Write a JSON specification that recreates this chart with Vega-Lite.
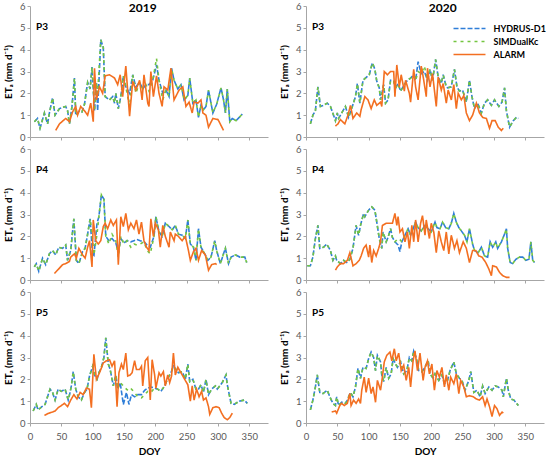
{
  "$schema": "https://vega.github.io/schema/vega-lite/v6.json",
  "background": "white",
  "padding": {"left": 3, "top": 1, "right": 0, "bottom": 0},
  "datasets": {
    "p3a": [
      {"d":7,"H":0.7,"S":0.7},{"d":12,"H":0.85,"S":0.85},{"d":16,"H":0.4,"S":0.4},{"d":23,"H":1.1,"S":1.1},{"d":28,"H":0.6,"S":0.6},{"d":31,"H":1.1,"S":1.1},{"d":36,"H":1.8,"S":1.8},{"d":40,"H":1.0,"S":1.0},{"d":47,"H":1.3,"S":1.3},{"d":57,"H":1.4,"S":1.4},{"d":60,"H":1.2,"S":1.2},{"d":63,"H":0.6,"S":0.6},{"d":67,"H":1.4,"S":1.4},{"d":71,"H":2.7,"S":2.7},{"d":73,"H":1.0,"S":1.0},{"d":79,"H":1.2,"S":1.2},{"d":83,"H":1.15,"S":1.15},{"d":87,"H":1.5,"S":1.5},{"d":92,"H":2.5,"S":2.5},{"d":96,"H":2.2,"S":2.2},{"d":99,"H":3.2,"S":3.2},{"d":103,"H":1.2,"S":1.2},{"d":106,"H":2.5,"S":2.5},{"d":108,"H":1.2,"S":2.0},{"d":113,"H":4.45,"S":4.45},{"d":117,"H":4.1,"S":4.1},{"d":120,"H":1.85,"S":1.85},{"d":127,"H":1.7,"S":1.7},{"d":132,"H":1.85,"S":1.85},{"d":135,"H":1.55,"S":1.55},{"d":137,"H":2.0,"S":2.0},{"d":141,"H":1.3,"S":1.3},{"d":145,"H":1.85,"S":1.85},{"d":149,"H":2.8,"S":2.8},{"d":153,"H":2.3,"S":2.3},{"d":159,"H":2.0,"S":1.4},{"d":164,"H":2.85,"S":2.85},{"d":169,"H":2.3,"S":2.0},{"d":175,"H":2.5,"S":2.5},{"d":180,"H":2.2,"S":2.2},{"d":185,"H":2.4,"S":2.4},{"d":190,"H":2.4,"S":2.1},{"d":196,"H":2.6,"S":2.6},{"d":202,"H":3.3,"S":3.6},{"d":206,"H":2.6,"S":2.6},{"d":212,"H":2.0,"S":1.7},{"d":217,"H":2.15,"S":2.15},{"d":222,"H":1.85,"S":1.85},{"d":226,"H":3.15,"S":3.15},{"d":230,"H":2.6,"S":2.6},{"d":236,"H":2.2,"S":2.2},{"d":241,"H":2.4,"S":2.4},{"d":246,"H":1.7,"S":1.7},{"d":252,"H":1.9,"S":1.9},{"d":255,"H":2.7,"S":2.7},{"d":260,"H":1.55,"S":1.55},{"d":265,"H":1.7,"S":1.7},{"d":269,"H":0.9,"S":0.9},{"d":273,"H":1.45,"S":1.45},{"d":277,"H":1.25,"S":1.25},{"d":281,"H":1.4,"S":1.4},{"d":285,"H":2.15,"S":2.15},{"d":292,"H":1.1,"S":1.1},{"d":298,"H":1.5,"S":1.5},{"d":305,"H":2.25,"S":2.25},{"d":309,"H":1.7,"S":1.7},{"d":312,"H":1.1,"S":1.1},{"d":315,"H":2.2,"S":2.2},{"d":319,"H":0.7,"S":0.7},{"d":323,"H":0.85,"S":0.85},{"d":329,"H":0.75,"S":0.75},{"d":339,"H":1.05,"S":1.05},
      {"d":41,"A":0.3},{"d":47,"A":0.6},{"d":57,"A":0.85},{"d":63,"A":0.7},{"d":68,"A":1.15},{"d":73,"A":1.4},{"d":76,"A":1.0},{"d":81,"A":1.4},{"d":87,"A":1.2},{"d":92,"A":1.0},{"d":97,"A":1.55},{"d":101,"A":0.7},{"d":103,"A":3.15},{"d":106,"A":1.7},{"d":111,"A":2.3},{"d":116,"A":2.0},{"d":120,"A":2.8},{"d":127,"A":2.85},{"d":135,"A":2.7},{"d":140,"A":2.4},{"d":144,"A":2.85},{"d":148,"A":1.85},{"d":153,"A":3.25},{"d":159,"A":0.95},{"d":164,"A":2.55},{"d":169,"A":2.15},{"d":175,"A":2.6},{"d":179,"A":1.7},{"d":182,"A":2.85},{"d":188,"A":1.55},{"d":190,"A":1.4},{"d":193,"A":3.0},{"d":197,"A":1.85},{"d":202,"A":2.8},{"d":206,"A":2.0},{"d":211,"A":1.4},{"d":214,"A":2.3},{"d":220,"A":2.15},{"d":225,"A":3.15},{"d":230,"A":1.7},{"d":238,"A":2.15},{"d":244,"A":2.3},{"d":249,"A":1.4},{"d":254,"A":1.6},{"d":259,"A":1.1},{"d":262,"A":1.6},{"d":268,"A":1.55},{"d":273,"A":1.7},{"d":276,"A":1.1},{"d":281,"A":1.0},{"d":285,"A":0.45},{"d":292,"A":0.85},{"d":300,"A":0.8},{"d":302,"A":0.7},{"d":309,"A":0.3}
    ],
    "p3b": [
      {"d":7,"H":0.6,"S":0.6},{"d":11,"H":1.0,"S":1.0},{"d":15,"H":1.2,"S":1.2},{"d":19,"H":2.3,"S":2.3},{"d":23,"H":1.4,"S":1.4},{"d":28,"H":1.45,"S":1.45},{"d":34,"H":1.55,"S":1.55},{"d":39,"H":1.4,"S":1.4},{"d":44,"H":1.0,"S":1.0},{"d":47,"H":0.75,"S":0.75},{"d":50,"H":1.1,"S":1.1},{"d":52,"H":0.85,"S":0.85},{"d":58,"H":1.15,"S":1.15},{"d":63,"H":1.4,"S":1.4},{"d":68,"H":0.9,"S":0.9},{"d":74,"H":1.4,"S":1.4},{"d":79,"H":1.85,"S":1.85},{"d":82,"H":2.45,"S":2.45},{"d":86,"H":1.55,"S":1.55},{"d":91,"H":2.6,"S":2.6},{"d":97,"H":2.75,"S":2.75},{"d":101,"H":2.85,"S":2.85},{"d":106,"H":3.4,"S":3.4},{"d":110,"H":3.1,"S":3.1},{"d":113,"H":2.55,"S":2.55},{"d":117,"H":2.25,"S":2.25},{"d":119,"H":1.7,"S":1.7},{"d":124,"H":2.4,"S":2.4},{"d":127,"H":1.55,"S":1.55},{"d":131,"H":1.7,"S":1.7},{"d":135,"H":2.6,"S":2.6},{"d":140,"H":2.55,"S":2.55},{"d":143,"H":2.25,"S":2.25},{"d":147,"H":2.45,"S":2.45},{"d":151,"H":2.1,"S":2.1},{"d":157,"H":2.4,"S":2.4},{"d":162,"H":2.6,"S":2.6},{"d":167,"H":2.7,"S":2.7},{"d":172,"H":2.85,"S":2.85},{"d":175,"H":2.6,"S":2.6},{"d":179,"H":3.45,"S":3.0},{"d":184,"H":2.9,"S":2.9},{"d":189,"H":3.0,"S":3.25},{"d":194,"H":2.6,"S":2.6},{"d":198,"H":3.1,"S":3.1},{"d":202,"H":2.6,"S":2.6},{"d":207,"H":3.55,"S":3.55},{"d":211,"H":2.75,"S":2.75},{"d":216,"H":2.45,"S":2.45},{"d":219,"H":2.85,"S":2.85},{"d":224,"H":2.3,"S":2.3},{"d":226,"H":2.25,"S":2.25},{"d":232,"H":2.3,"S":2.3},{"d":237,"H":3.1,"S":3.1},{"d":241,"H":2.3,"S":2.3},{"d":245,"H":2.1,"S":2.1},{"d":250,"H":2.15,"S":2.15},{"d":256,"H":1.6,"S":1.6},{"d":261,"H":2.6,"S":2.6},{"d":265,"H":1.85,"S":1.85},{"d":269,"H":1.3,"S":1.3},{"d":274,"H":1.55,"S":1.55},{"d":280,"H":1.1,"S":1.1},{"d":285,"H":1.55,"S":1.55},{"d":290,"H":1.7,"S":1.7},{"d":296,"H":1.45,"S":1.45},{"d":301,"H":1.7,"S":1.7},{"d":308,"H":1.4,"S":1.4},{"d":313,"H":1.6,"S":1.6},{"d":317,"H":2.25,"S":2.25},{"d":320,"H":1.2,"S":1.2},{"d":325,"H":0.45,"S":0.45},{"d":331,"H":0.75,"S":0.75},{"d":336,"H":0.9,"S":0.9},{"d":339,"H":0.85,"S":0.85},
      {"d":47,"A":0.5},{"d":51,"A":0.6},{"d":55,"A":0.8},{"d":62,"A":0.6},{"d":67,"A":1.0},{"d":71,"A":1.45},{"d":75,"A":0.85},{"d":81,"A":1.1},{"d":86,"A":0.95},{"d":88,"A":1.25},{"d":94,"A":1.85},{"d":99,"A":1.7},{"d":104,"A":1.3},{"d":109,"A":1.7},{"d":113,"A":1.45},{"d":119,"A":1.6},{"d":121,"A":1.4},{"d":125,"A":3.0},{"d":130,"A":2.85},{"d":135,"A":3.0},{"d":140,"A":3.0},{"d":142,"A":1.85},{"d":145,"A":3.3},{"d":149,"A":2.3},{"d":152,"A":2.85},{"d":157,"A":2.1},{"d":159,"A":2.6},{"d":165,"A":2.0},{"d":167,"A":1.6},{"d":172,"A":3.1},{"d":175,"A":2.3},{"d":179,"A":1.7},{"d":184,"A":3.25},{"d":188,"A":2.6},{"d":192,"A":1.85},{"d":194,"A":3.15},{"d":198,"A":2.3},{"d":202,"A":2.9},{"d":208,"A":1.4},{"d":211,"A":2.75},{"d":216,"A":2.15},{"d":219,"A":2.45},{"d":224,"A":1.55},{"d":227,"A":2.15},{"d":232,"A":1.7},{"d":236,"A":2.4},{"d":240,"A":1.3},{"d":243,"A":2.0},{"d":248,"A":1.7},{"d":252,"A":1.9},{"d":256,"A":1.1},{"d":261,"A":0.75},{"d":266,"A":1.0},{"d":272,"A":1.55},{"d":277,"A":1.1},{"d":282,"A":0.9},{"d":288,"A":0.85},{"d":293,"A":0.4},{"d":297,"A":0.75},{"d":302,"A":0.75},{"d":307,"A":0.45},{"d":312,"A":0.3},{"d":315,"A":0.4}
    ],
    "p4a": [
      {"d":7,"H":0.6,"S":0.6},{"d":10,"H":0.75,"S":0.75},{"d":14,"H":0.4,"S":0.4},{"d":20,"H":1.0,"S":1.0},{"d":25,"H":0.7,"S":0.7},{"d":31,"H":1.2,"S":1.2},{"d":36,"H":1.35,"S":1.35},{"d":41,"H":1.15,"S":1.15},{"d":46,"H":1.5,"S":1.5},{"d":52,"H":1.45,"S":1.45},{"d":57,"H":1.6,"S":1.6},{"d":60,"H":0.9,"S":0.9},{"d":65,"H":1.35,"S":1.35},{"d":70,"H":2.8,"S":2.8},{"d":74,"H":0.9,"S":0.9},{"d":78,"H":0.75,"S":0.75},{"d":84,"H":1.3,"S":1.3},{"d":88,"H":1.45,"S":1.45},{"d":92,"H":2.1,"S":2.1},{"d":96,"H":2.8,"S":2.8},{"d":100,"H":1.1,"S":1.8},{"d":102,"H":1.1,"S":1.15},{"d":107,"H":2.6,"S":2.1},{"d":110,"H":2.9,"S":2.9},{"d":114,"H":3.9,"S":3.9},{"d":118,"H":3.7,"S":3.7},{"d":121,"H":2.0,"S":2.0},{"d":126,"H":1.8,"S":1.65},{"d":131,"H":1.9,"S":2.1},{"d":137,"H":1.7,"S":1.8},{"d":141,"H":1.3,"S":1.05},{"d":145,"H":1.9,"S":2.0},{"d":150,"H":1.7,"S":1.65},{"d":155,"H":1.8,"S":1.8},{"d":161,"H":1.75,"S":1.5},{"d":166,"H":1.8,"S":1.65},{"d":171,"H":1.85,"S":1.6},{"d":176,"H":1.8,"S":1.65},{"d":182,"H":1.75,"S":1.75},{"d":187,"H":1.6,"S":1.35},{"d":192,"H":1.5,"S":1.2},{"d":198,"H":2.0,"S":2.0},{"d":201,"H":2.9,"S":2.9},{"d":206,"H":2.2,"S":2.2},{"d":211,"H":2.0,"S":2.0},{"d":216,"H":2.6,"S":2.6},{"d":222,"H":2.45,"S":2.45},{"d":227,"H":2.3,"S":2.3},{"d":232,"H":2.5,"S":2.5},{"d":237,"H":2.1,"S":2.1},{"d":243,"H":2.05,"S":2.05},{"d":248,"H":1.9,"S":1.9},{"d":252,"H":2.75,"S":2.75},{"d":256,"H":1.65,"S":1.65},{"d":261,"H":1.5,"S":1.5},{"d":265,"H":0.9,"S":0.9},{"d":269,"H":2.35,"S":2.35},{"d":273,"H":1.5,"S":1.5},{"d":279,"H":1.2,"S":1.2},{"d":284,"H":0.9,"S":0.9},{"d":289,"H":1.05,"S":1.05},{"d":295,"H":1.8,"S":1.8},{"d":298,"H":1.35,"S":1.35},{"d":304,"H":0.75,"S":0.75},{"d":309,"H":1.2,"S":1.2},{"d":312,"H":1.45,"S":1.45},{"d":317,"H":0.75,"S":0.75},{"d":321,"H":1.05,"S":1.05},{"d":328,"H":1.15,"S":1.15},{"d":335,"H":1.05,"S":1.05},{"d":343,"H":1.05,"S":1.05},{"d":346,"H":0.8,"S":0.8},
      {"d":39,"A":0.3},{"d":44,"A":0.45},{"d":52,"A":0.7},{"d":57,"A":0.75},{"d":63,"A":0.85},{"d":65,"A":1.05},{"d":71,"A":1.2},{"d":74,"A":1.0},{"d":78,"A":1.45},{"d":84,"A":1.15},{"d":88,"A":1.0},{"d":92,"A":1.5},{"d":95,"A":1.8},{"d":99,"A":0.6},{"d":101,"A":2.75},{"d":105,"A":1.8},{"d":109,"A":1.65},{"d":113,"A":1.8},{"d":117,"A":2.45},{"d":120,"A":2.6},{"d":124,"A":2.35},{"d":129,"A":2.75},{"d":133,"A":2.5},{"d":138,"A":2.75},{"d":141,"A":0.7},{"d":145,"A":2.9},{"d":149,"A":2.45},{"d":153,"A":3.05},{"d":157,"A":2.3},{"d":161,"A":2.6},{"d":166,"A":2.35},{"d":170,"A":2.75},{"d":174,"A":2.1},{"d":178,"A":2.65},{"d":182,"A":1.8},{"d":186,"A":1.5},{"d":190,"A":1.35},{"d":193,"A":2.8},{"d":197,"A":2.0},{"d":200,"A":2.6},{"d":205,"A":2.3},{"d":208,"A":1.5},{"d":212,"A":2.5},{"d":216,"A":2.0},{"d":222,"A":1.5},{"d":224,"A":2.2},{"d":230,"A":1.8},{"d":232,"A":2.1},{"d":237,"A":2.0},{"d":243,"A":1.8},{"d":248,"A":2.0},{"d":253,"A":1.35},{"d":256,"A":0.9},{"d":261,"A":1.3},{"d":265,"A":1.45},{"d":269,"A":0.9},{"d":274,"A":1.35},{"d":280,"A":1.15},{"d":285,"A":0.45},{"d":290,"A":0.7},{"d":296,"A":0.75},{"d":298,"A":0.7}
    ],
    "p4b": [
      {"d":2,"H":0.65,"S":0.65},{"d":7,"H":0.65,"S":0.65},{"d":11,"H":1.05,"S":1.05},{"d":15,"H":1.9,"S":1.9},{"d":19,"H":2.5,"S":2.5},{"d":22,"H":1.45,"S":1.45},{"d":28,"H":1.5,"S":1.5},{"d":33,"H":1.65,"S":1.65},{"d":39,"H":1.35,"S":1.35},{"d":43,"H":0.9,"S":0.9},{"d":47,"H":1.1,"S":1.1},{"d":49,"H":0.9,"S":0.9},{"d":55,"H":0.75,"S":0.75},{"d":60,"H":0.9,"S":0.9},{"d":65,"H":0.8,"S":0.8},{"d":70,"H":0.95,"S":0.95},{"d":75,"H":1.45,"S":1.45},{"d":80,"H":2.5,"S":2.5},{"d":84,"H":2.05,"S":2.05},{"d":87,"H":2.5,"S":2.5},{"d":92,"H":3.05,"S":3.05},{"d":94,"H":2.9,"S":2.9},{"d":100,"H":3.2,"S":3.2},{"d":105,"H":3.35,"S":3.35},{"d":110,"H":3.2,"S":3.2},{"d":113,"H":2.65,"S":2.65},{"d":117,"H":1.9,"S":1.9},{"d":121,"H":1.45,"S":1.45},{"d":123,"H":2.2,"S":2.2},{"d":128,"H":1.75,"S":1.75},{"d":131,"H":1.95,"S":1.95},{"d":135,"H":2.35,"S":2.35},{"d":138,"H":1.95,"S":1.95},{"d":142,"H":1.75,"S":1.75},{"d":147,"H":1.6,"S":1.9},{"d":150,"H":1.3,"S":1.85},{"d":153,"H":1.75,"S":1.75},{"d":158,"H":2.05,"S":2.05},{"d":163,"H":2.35,"S":2.35},{"d":167,"H":2.05,"S":2.05},{"d":171,"H":2.35,"S":2.35},{"d":175,"H":2.65,"S":2.65},{"d":179,"H":2.4,"S":2.4},{"d":184,"H":2.25,"S":2.25},{"d":190,"H":2.5,"S":2.5},{"d":195,"H":2.35,"S":2.35},{"d":200,"H":2.2,"S":2.2},{"d":206,"H":2.65,"S":2.65},{"d":209,"H":2.4,"S":2.4},{"d":214,"H":2.35,"S":2.35},{"d":218,"H":2.65,"S":2.65},{"d":223,"H":2.4,"S":2.4},{"d":228,"H":2.35,"S":2.35},{"d":232,"H":2.6,"S":2.6},{"d":236,"H":3.05,"S":3.05},{"d":240,"H":2.65,"S":2.65},{"d":244,"H":2.4,"S":2.4},{"d":248,"H":2.25,"S":2.25},{"d":253,"H":2.05,"S":2.05},{"d":257,"H":1.75,"S":1.75},{"d":261,"H":2.35,"S":2.35},{"d":266,"H":1.65,"S":1.65},{"d":269,"H":1.35,"S":1.35},{"d":275,"H":1.25,"S":1.25},{"d":280,"H":1.5,"S":1.5},{"d":285,"H":1.1,"S":1.1},{"d":290,"H":1.05,"S":1.05},{"d":294,"H":1.75,"S":1.75},{"d":298,"H":1.5,"S":1.5},{"d":303,"H":1.75,"S":1.75},{"d":306,"H":1.45,"S":1.45},{"d":312,"H":1.75,"S":1.75},{"d":317,"H":2.1,"S":2.1},{"d":320,"H":2.35,"S":2.35},{"d":322,"H":1.45,"S":1.45},{"d":326,"H":0.8,"S":0.8},{"d":330,"H":0.75,"S":0.75},{"d":335,"H":0.95,"S":0.95},{"d":341,"H":1.05,"S":1.05},{"d":346,"H":1.05,"S":1.05},{"d":351,"H":0.9,"S":0.9},{"d":356,"H":0.95,"S":0.95},{"d":359,"H":1.75,"S":1.75},{"d":362,"H":0.9,"S":0.9},{"d":365,"H":0.8,"S":0.8},
      {"d":47,"A":0.45},{"d":50,"A":0.6},{"d":55,"A":0.75},{"d":60,"A":0.75},{"d":66,"A":0.9},{"d":70,"A":1.25},{"d":75,"A":0.65},{"d":80,"A":0.75},{"d":85,"A":0.9},{"d":88,"A":1.1},{"d":92,"A":1.45},{"d":96,"A":1.6},{"d":100,"A":1.05},{"d":102,"A":1.6},{"d":105,"A":0.8},{"d":108,"A":1.35},{"d":112,"A":1.1},{"d":116,"A":1.45},{"d":119,"A":1.75},{"d":122,"A":2.5},{"d":128,"A":2.6},{"d":133,"A":2.6},{"d":138,"A":2.6},{"d":142,"A":3.05},{"d":145,"A":2.5},{"d":147,"A":2.9},{"d":150,"A":2.2},{"d":154,"A":2.35},{"d":158,"A":1.75},{"d":162,"A":2.2},{"d":165,"A":1.45},{"d":169,"A":2.5},{"d":172,"A":1.75},{"d":175,"A":2.75},{"d":179,"A":1.75},{"d":183,"A":2.6},{"d":186,"A":2.95},{"d":190,"A":2.05},{"d":192,"A":2.75},{"d":197,"A":1.9},{"d":200,"A":2.6},{"d":204,"A":2.2},{"d":208,"A":1.25},{"d":212,"A":2.25},{"d":216,"A":1.75},{"d":220,"A":1.35},{"d":224,"A":2.2},{"d":228,"A":1.2},{"d":232,"A":2.05},{"d":237,"A":1.45},{"d":241,"A":1.8},{"d":245,"A":1.25},{"d":251,"A":1.75},{"d":256,"A":1.45},{"d":261,"A":0.8},{"d":266,"A":1.35},{"d":271,"A":1.35},{"d":276,"A":1.1},{"d":281,"A":1.05},{"d":287,"A":0.8},{"d":292,"A":0.5},{"d":296,"A":0.2},{"d":298,"A":0.65},{"d":304,"A":0.6},{"d":309,"A":0.35},{"d":314,"A":0.2},{"d":320,"A":0.12},{"d":325,"A":0.12}
    ],
    "p5a": [
      {"d":5,"H":0.55,"S":0.55},{"d":10,"H":0.85,"S":0.85},{"d":13,"H":0.6,"S":0.6},{"d":19,"H":0.75,"S":0.75},{"d":24,"H":0.85,"S":0.85},{"d":28,"H":1.2,"S":1.2},{"d":32,"H":1.55,"S":1.55},{"d":36,"H":1.4,"S":1.4},{"d":40,"H":1.05,"S":1.05},{"d":45,"H":1.55,"S":1.55},{"d":50,"H":1.45,"S":1.45},{"d":56,"H":1.55,"S":1.55},{"d":61,"H":1.05,"S":1.05},{"d":64,"H":1.4,"S":1.4},{"d":66,"H":1.7,"S":1.7},{"d":69,"H":2.35,"S":2.35},{"d":73,"H":1.55,"S":1.55},{"d":77,"H":1.2,"S":1.2},{"d":82,"H":1.05,"S":1.05},{"d":87,"H":1.4,"S":1.4},{"d":91,"H":1.55,"S":1.55},{"d":95,"H":2.15,"S":2.15},{"d":100,"H":2.6,"S":2.6},{"d":103,"H":2.2,"S":2.2},{"d":107,"H":2.0,"S":2.0},{"d":110,"H":2.3,"S":2.3},{"d":114,"H":2.55,"S":2.55},{"d":118,"H":3.0,"S":3.0},{"d":121,"H":3.9,"S":3.9},{"d":125,"H":2.7,"S":2.7},{"d":128,"H":2.45,"S":2.45},{"d":133,"H":1.7,"S":1.7},{"d":137,"H":2.2,"S":2.2},{"d":140,"H":1.55,"S":1.55},{"d":144,"H":1.85,"S":1.85},{"d":149,"H":0.85,"S":1.7},{"d":154,"H":1.4,"S":1.55},{"d":158,"H":0.85,"S":1.45},{"d":162,"H":1.3,"S":1.55},{"d":167,"H":1.2,"S":1.4},{"d":172,"H":1.3,"S":1.2},{"d":178,"H":1.3,"S":1.15},{"d":183,"H":1.5,"S":1.3},{"d":188,"H":1.6,"S":1.45},{"d":193,"H":1.65,"S":1.4},{"d":199,"H":1.6,"S":1.6},{"d":204,"H":1.55,"S":1.55},{"d":209,"H":1.45,"S":1.45},{"d":215,"H":1.7,"S":1.7},{"d":220,"H":2.05,"S":2.05},{"d":225,"H":2.3,"S":2.3},{"d":229,"H":2.6,"S":2.6},{"d":233,"H":2.45,"S":2.45},{"d":237,"H":2.3,"S":2.3},{"d":243,"H":2.35,"S":2.35},{"d":248,"H":2.0,"S":2.0},{"d":252,"H":2.7,"S":2.7},{"d":255,"H":1.9,"S":1.9},{"d":260,"H":2.0,"S":2.0},{"d":265,"H":1.55,"S":1.55},{"d":269,"H":1.55,"S":1.55},{"d":273,"H":1.75,"S":1.75},{"d":277,"H":1.4,"S":1.4},{"d":281,"H":2.0,"S":2.0},{"d":285,"H":1.3,"S":1.3},{"d":290,"H":1.55,"S":1.55},{"d":296,"H":1.7,"S":1.7},{"d":299,"H":1.55,"S":1.55},{"d":303,"H":1.7,"S":1.7},{"d":307,"H":1.85,"S":1.85},{"d":313,"H":2.2,"S":2.2},{"d":315,"H":1.75,"S":1.75},{"d":321,"H":0.9,"S":0.9},{"d":326,"H":0.85,"S":0.85},{"d":334,"H":1.0,"S":1.0},{"d":342,"H":1.05,"S":1.05},{"d":347,"H":0.9,"S":0.9},
      {"d":23,"A":0.35},{"d":30,"A":0.45},{"d":36,"A":0.5},{"d":40,"A":0.55},{"d":45,"A":0.7},{"d":50,"A":0.8},{"d":55,"A":0.9},{"d":60,"A":0.75},{"d":65,"A":1.05},{"d":70,"A":1.3},{"d":75,"A":1.1},{"d":80,"A":1.4},{"d":85,"A":1.3},{"d":90,"A":1.6},{"d":95,"A":1.55},{"d":98,"A":0.7},{"d":102,"A":3.15},{"d":106,"A":2.0},{"d":111,"A":2.3},{"d":117,"A":2.75},{"d":122,"A":2.85},{"d":127,"A":2.9},{"d":131,"A":2.6},{"d":135,"A":2.85},{"d":139,"A":0.75},{"d":142,"A":2.3},{"d":146,"A":2.7},{"d":149,"A":2.45},{"d":153,"A":3.2},{"d":156,"A":2.15},{"d":160,"A":2.2},{"d":163,"A":2.3},{"d":167,"A":2.85},{"d":170,"A":2.45},{"d":175,"A":2.45},{"d":178,"A":2.6},{"d":180,"A":1.7},{"d":184,"A":2.85},{"d":188,"A":3.0},{"d":192,"A":1.05},{"d":195,"A":2.9},{"d":199,"A":2.2},{"d":201,"A":1.6},{"d":206,"A":2.3},{"d":209,"A":2.15},{"d":213,"A":2.35},{"d":216,"A":1.7},{"d":220,"A":2.2},{"d":223,"A":1.85},{"d":226,"A":2.15},{"d":229,"A":3.2},{"d":232,"A":2.2},{"d":236,"A":2.55},{"d":241,"A":2.3},{"d":246,"A":2.05},{"d":252,"A":1.75},{"d":256,"A":1.0},{"d":259,"A":1.7},{"d":262,"A":1.05},{"d":266,"A":1.55},{"d":270,"A":1.2},{"d":274,"A":1.45},{"d":277,"A":1.05},{"d":281,"A":1.15},{"d":285,"A":0.75},{"d":287,"A":0.4},{"d":292,"A":0.7},{"d":297,"A":0.75},{"d":302,"A":0.7},{"d":306,"A":0.45},{"d":310,"A":0.25},{"d":315,"A":0.15},{"d":319,"A":0.25},{"d":323,"A":0.45}
    ],
    "p5b": [
      {"d":7,"H":0.6,"S":0.6},{"d":11,"H":1.05,"S":1.05},{"d":15,"H":1.65,"S":1.65},{"d":18,"H":2.2,"S":2.2},{"d":22,"H":1.4,"S":1.4},{"d":27,"H":1.35,"S":1.35},{"d":34,"H":1.5,"S":1.5},{"d":38,"H":1.2,"S":1.2},{"d":43,"H":0.9,"S":0.9},{"d":47,"H":0.8,"S":0.8},{"d":49,"H":1.2,"S":1.2},{"d":52,"H":0.8,"S":0.8},{"d":57,"H":0.95,"S":0.95},{"d":63,"H":0.9,"S":0.9},{"d":66,"H":1.05,"S":1.05},{"d":71,"H":1.4,"S":1.4},{"d":75,"H":1.2,"S":1.2},{"d":79,"H":1.65,"S":1.65},{"d":83,"H":2.5,"S":2.5},{"d":87,"H":2.05,"S":2.05},{"d":91,"H":2.55,"S":2.55},{"d":96,"H":2.5,"S":2.5},{"d":100,"H":2.95,"S":2.95},{"d":104,"H":3.25,"S":3.25},{"d":108,"H":3.0,"S":3.0},{"d":111,"H":2.4,"S":2.4},{"d":114,"H":3.1,"S":3.1},{"d":119,"H":2.8,"S":2.8},{"d":121,"H":2.2,"S":2.2},{"d":124,"H":1.9,"S":1.9},{"d":128,"H":2.55,"S":2.55},{"d":132,"H":2.05,"S":2.05},{"d":136,"H":2.25,"S":2.25},{"d":139,"H":2.95,"S":2.95},{"d":143,"H":2.7,"S":2.7},{"d":146,"H":2.55,"S":2.55},{"d":151,"H":2.8,"S":2.8},{"d":156,"H":2.25,"S":2.25},{"d":161,"H":2.4,"S":2.4},{"d":165,"H":3.0,"S":3.0},{"d":169,"H":2.85,"S":2.85},{"d":172,"H":3.3,"S":3.3},{"d":176,"H":3.0,"S":3.0},{"d":180,"H":2.4,"S":2.4},{"d":185,"H":2.35,"S":2.35},{"d":190,"H":2.55,"S":2.55},{"d":195,"H":2.85,"S":2.85},{"d":198,"H":2.25,"S":2.25},{"d":203,"H":2.05,"S":2.05},{"d":206,"H":2.25,"S":2.25},{"d":212,"H":1.95,"S":1.95},{"d":217,"H":2.2,"S":2.2},{"d":221,"H":1.8,"S":1.8},{"d":226,"H":1.95,"S":1.95},{"d":230,"H":2.4,"S":2.4},{"d":236,"H":2.8,"S":2.8},{"d":240,"H":2.25,"S":2.25},{"d":245,"H":2.05,"S":2.05},{"d":249,"H":1.95,"S":1.95},{"d":254,"H":1.5,"S":1.5},{"d":260,"H":1.95,"S":1.95},{"d":263,"H":2.35,"S":2.35},{"d":268,"H":1.4,"S":1.4},{"d":273,"H":1.5,"S":1.5},{"d":278,"H":1.2,"S":1.2},{"d":282,"H":1.7,"S":1.7},{"d":286,"H":1.35,"S":1.35},{"d":292,"H":1.65,"S":1.65},{"d":297,"H":1.5,"S":1.5},{"d":302,"H":1.7,"S":1.7},{"d":307,"H":1.65,"S":1.65},{"d":313,"H":1.5,"S":1.5},{"d":315,"H":1.2,"S":1.2},{"d":320,"H":2.05,"S":2.05},{"d":323,"H":1.5,"S":1.5},{"d":327,"H":1.1,"S":1.1},{"d":332,"H":1.05,"S":1.05},{"d":339,"H":0.8,"S":0.8},
      {"d":41,"A":0.5},{"d":47,"A":0.55},{"d":49,"A":0.45},{"d":54,"A":0.8},{"d":57,"A":0.9},{"d":61,"A":0.8},{"d":66,"A":0.9},{"d":70,"A":1.35},{"d":72,"A":0.8},{"d":76,"A":1.05},{"d":80,"A":0.9},{"d":84,"A":1.1},{"d":87,"A":0.9},{"d":89,"A":1.5},{"d":93,"A":2.1},{"d":96,"A":1.4},{"d":100,"A":2.05},{"d":104,"A":1.35},{"d":107,"A":1.65},{"d":111,"A":0.95},{"d":114,"A":1.95},{"d":119,"A":1.5},{"d":121,"A":1.9},{"d":125,"A":2.8},{"d":129,"A":3.1},{"d":134,"A":3.25},{"d":137,"A":2.85},{"d":141,"A":3.4},{"d":144,"A":2.85},{"d":148,"A":3.2},{"d":152,"A":2.4},{"d":156,"A":2.65},{"d":160,"A":1.95},{"d":164,"A":2.55},{"d":167,"A":1.65},{"d":171,"A":2.85},{"d":174,"A":3.3},{"d":178,"A":2.4},{"d":182,"A":3.2},{"d":187,"A":1.95},{"d":190,"A":2.55},{"d":194,"A":2.85},{"d":197,"A":2.25},{"d":201,"A":2.7},{"d":205,"A":1.5},{"d":209,"A":2.4},{"d":213,"A":2.1},{"d":217,"A":2.55},{"d":221,"A":1.65},{"d":224,"A":2.2},{"d":228,"A":1.5},{"d":231,"A":2.1},{"d":236,"A":1.8},{"d":240,"A":2.25},{"d":244,"A":1.35},{"d":247,"A":1.95},{"d":252,"A":1.65},{"d":256,"A":1.2},{"d":261,"A":1.25},{"d":267,"A":1.2},{"d":272,"A":1.1},{"d":277,"A":1.05},{"d":282,"A":1.2},{"d":286,"A":0.8},{"d":289,"A":1.1},{"d":293,"A":0.75},{"d":297,"A":0.3},{"d":301,"A":0.8},{"d":305,"A":0.65},{"d":309,"A":0.35},{"d":313,"A":0.5},{"d":315,"A":0.45}
    ]
  },
  "hconcat": [
    {
      "title": {"text": "2019", "anchor": "middle", "frame": "bounds", "offset": -14, "dx": 7, "fontSize": 12},
      "spacing": 2,
      "vconcat": [
        {
          "width": 238, "height": 131,
          "data": {"name": "p3a"},
          "title": {"text": "P3", "anchor": "start", "frame": "group", "offset": -31, "dx": 6},
          "transform": [{"fold": ["H", "S", "A"], "as": ["m", "et"]}, {"filter": "isValid(datum.et)"}],
          "mark": {"type": "line", "strokeWidth": 1.6},
          "encoding": {
            "x": {"field": "d", "type": "quantitative", "scale": {"domain": [0, 380]}, "axis": {"labels": false, "title": null, "values": [0, 50, 100, 150, 200, 250, 300, 350]}},
            "y": {"field": "et", "type": "quantitative", "scale": {"domain": [0, 6]}, "axis": {"title": "ETₐ (mm d⁻¹)", "values": [0, 1, 2, 3, 4, 5, 6]}},
            "color": {"field": "m", "type": "nominal", "title": null, "scale": {"domain": ["H", "S", "A"], "range": ["#2F7ED8", "#74C540", "#F36F21"]}, "legend": {"labelExpr": "datum.label == 'H' ? 'HYDRUS-D1' : datum.label == 'S' ? 'SIMDualKc' : 'ALARM'"}},
            "strokeDash": {"field": "m", "type": "nominal", "title": null, "scale": {"domain": ["H", "S", "A"], "range": [[5, 2], [3, 4], [1, 0]]}, "legend": {"labelExpr": "datum.label == 'H' ? 'HYDRUS-D1' : datum.label == 'S' ? 'SIMDualKc' : 'ALARM'"}}
          }
        },
        {
          "width": 238, "height": 131,
          "data": {"name": "p4a"},
          "title": {"text": "P4", "anchor": "start", "frame": "group", "offset": -31, "dx": 6},
          "transform": [{"fold": ["H", "S", "A"], "as": ["m", "et"]}, {"filter": "isValid(datum.et)"}],
          "mark": {"type": "line", "strokeWidth": 1.6},
          "encoding": {
            "x": {"field": "d", "type": "quantitative", "scale": {"domain": [0, 380]}, "axis": {"labels": false, "title": null, "values": [0, 50, 100, 150, 200, 250, 300, 350]}},
            "y": {"field": "et", "type": "quantitative", "scale": {"domain": [0, 6]}, "axis": {"title": "ETₐ (mm d⁻¹)", "values": [0, 1, 2, 3, 4, 5, 6]}},
            "color": {"field": "m", "type": "nominal", "title": null, "scale": {"domain": ["H", "S", "A"], "range": ["#2F7ED8", "#74C540", "#F36F21"]}, "legend": {"labelExpr": "datum.label == 'H' ? 'HYDRUS-D1' : datum.label == 'S' ? 'SIMDualKc' : 'ALARM'"}},
            "strokeDash": {"field": "m", "type": "nominal", "title": null, "scale": {"domain": ["H", "S", "A"], "range": [[5, 2], [3, 4], [1, 0]]}, "legend": {"labelExpr": "datum.label == 'H' ? 'HYDRUS-D1' : datum.label == 'S' ? 'SIMDualKc' : 'ALARM'"}}
          }
        },
        {
          "width": 238, "height": 131,
          "data": {"name": "p5a"},
          "title": {"text": "P5", "anchor": "start", "frame": "group", "offset": -31, "dx": 6},
          "transform": [{"fold": ["H", "S", "A"], "as": ["m", "et"]}, {"filter": "isValid(datum.et)"}],
          "mark": {"type": "line", "strokeWidth": 1.6},
          "encoding": {
            "x": {"field": "d", "type": "quantitative", "scale": {"domain": [0, 380]}, "axis": {"title": "DOY", "values": [0, 50, 100, 150, 200, 250, 300, 350]}},
            "y": {"field": "et", "type": "quantitative", "scale": {"domain": [0, 6]}, "axis": {"title": "ETₐ (mm d⁻¹)", "values": [0, 1, 2, 3, 4, 5, 6]}},
            "color": {"field": "m", "type": "nominal", "title": null, "scale": {"domain": ["H", "S", "A"], "range": ["#2F7ED8", "#74C540", "#F36F21"]}, "legend": {"labelExpr": "datum.label == 'H' ? 'HYDRUS-D1' : datum.label == 'S' ? 'SIMDualKc' : 'ALARM'"}},
            "strokeDash": {"field": "m", "type": "nominal", "title": null, "scale": {"domain": ["H", "S", "A"], "range": [[5, 2], [3, 4], [1, 0]]}, "legend": {"labelExpr": "datum.label == 'H' ? 'HYDRUS-D1' : datum.label == 'S' ? 'SIMDualKc' : 'ALARM'"}}
          }
        }
      ]
    },
    {
      "title": {"text": "2020", "anchor": "middle", "frame": "bounds", "offset": -14, "dx": 31, "fontSize": 12},
      "spacing": 2,
      "vconcat": [
        {
          "width": 238, "height": 131,
          "data": {"name": "p3b"},
          "title": {"text": "P3", "anchor": "start", "frame": "group", "offset": -31, "dx": 6},
          "transform": [{"fold": ["H", "S", "A"], "as": ["m", "et"]}, {"filter": "isValid(datum.et)"}],
          "mark": {"type": "line", "strokeWidth": 1.6},
          "encoding": {
            "x": {"field": "d", "type": "quantitative", "scale": {"domain": [0, 380]}, "axis": {"labels": false, "title": null, "values": [0, 50, 100, 150, 200, 250, 300, 350]}},
            "y": {"field": "et", "type": "quantitative", "scale": {"domain": [0, 6]}, "axis": {"title": "ETₐ (mm d⁻¹)", "values": [0, 1, 2, 3, 4, 5, 6]}},
            "color": {"field": "m", "type": "nominal", "title": null, "scale": {"domain": ["H", "S", "A"], "range": ["#2F7ED8", "#74C540", "#F36F21"]}, "legend": {"labelExpr": "datum.label == 'H' ? 'HYDRUS-D1' : datum.label == 'S' ? 'SIMDualKc' : 'ALARM'"}},
            "strokeDash": {"field": "m", "type": "nominal", "title": null, "scale": {"domain": ["H", "S", "A"], "range": [[5, 2], [3, 4], [1, 0]]}, "legend": {"labelExpr": "datum.label == 'H' ? 'HYDRUS-D1' : datum.label == 'S' ? 'SIMDualKc' : 'ALARM'"}}
          }
        },
        {
          "width": 238, "height": 131,
          "data": {"name": "p4b"},
          "title": {"text": "P4", "anchor": "start", "frame": "group", "offset": -31, "dx": 6},
          "transform": [{"fold": ["H", "S", "A"], "as": ["m", "et"]}, {"filter": "isValid(datum.et)"}],
          "mark": {"type": "line", "strokeWidth": 1.6},
          "encoding": {
            "x": {"field": "d", "type": "quantitative", "scale": {"domain": [0, 380]}, "axis": {"labels": false, "title": null, "values": [0, 50, 100, 150, 200, 250, 300, 350]}},
            "y": {"field": "et", "type": "quantitative", "scale": {"domain": [0, 6]}, "axis": {"title": "ETₐ (mm d⁻¹)", "values": [0, 1, 2, 3, 4, 5, 6]}},
            "color": {"field": "m", "type": "nominal", "title": null, "scale": {"domain": ["H", "S", "A"], "range": ["#2F7ED8", "#74C540", "#F36F21"]}, "legend": {"labelExpr": "datum.label == 'H' ? 'HYDRUS-D1' : datum.label == 'S' ? 'SIMDualKc' : 'ALARM'"}},
            "strokeDash": {"field": "m", "type": "nominal", "title": null, "scale": {"domain": ["H", "S", "A"], "range": [[5, 2], [3, 4], [1, 0]]}, "legend": {"labelExpr": "datum.label == 'H' ? 'HYDRUS-D1' : datum.label == 'S' ? 'SIMDualKc' : 'ALARM'"}}
          }
        },
        {
          "width": 238, "height": 131,
          "data": {"name": "p5b"},
          "title": {"text": "P5", "anchor": "start", "frame": "group", "offset": -31, "dx": 6},
          "transform": [{"fold": ["H", "S", "A"], "as": ["m", "et"]}, {"filter": "isValid(datum.et)"}],
          "mark": {"type": "line", "strokeWidth": 1.6},
          "encoding": {
            "x": {"field": "d", "type": "quantitative", "scale": {"domain": [0, 380]}, "axis": {"title": "DOY", "values": [0, 50, 100, 150, 200, 250, 300, 350]}},
            "y": {"field": "et", "type": "quantitative", "scale": {"domain": [0, 6]}, "axis": {"title": "ETₐ (mm d⁻¹)", "values": [0, 1, 2, 3, 4, 5, 6]}},
            "color": {"field": "m", "type": "nominal", "title": null, "scale": {"domain": ["H", "S", "A"], "range": ["#2F7ED8", "#74C540", "#F36F21"]}, "legend": {"labelExpr": "datum.label == 'H' ? 'HYDRUS-D1' : datum.label == 'S' ? 'SIMDualKc' : 'ALARM'"}},
            "strokeDash": {"field": "m", "type": "nominal", "title": null, "scale": {"domain": ["H", "S", "A"], "range": [[5, 2], [3, 4], [1, 0]]}, "legend": {"labelExpr": "datum.label == 'H' ? 'HYDRUS-D1' : datum.label == 'S' ? 'SIMDualKc' : 'ALARM'"}}
          }
        }
      ]
    }
  ],
  "spacing": 11,
  "config": {
    "view": {"stroke": null},
    "font": "Lato",
    "title": {"font": "Lato", "fontWeight": "bold", "color": "#000000", "fontSize": 10},
    "axis": {"labelFont": "Lato", "labelFontSize": 9.5, "labelColor": "#595959", "domainColor": "#A6A6A6", "tickColor": "#A6A6A6", "tickSize": 3, "grid": false, "titleFont": "Lato", "titleFontSize": 10, "titleFontWeight": "bold", "titleColor": "#000000", "labelPadding": 2, "labelOverlap": false},
    "axisX": {"labelFlush": false, "labelPadding": 5, "titlePadding": 6},
    "axisY": {"titlePadding": 6},
    "legend": {"orient": "none", "legendX": 432, "legendY": 15, "symbolType": "M-2.46,0H2.46", "symbolSize": 169, "symbolStrokeWidth": 1.6, "rowPadding": 0, "labelOffset": 16.5, "labelFont": "Lato", "labelFontSize": 9, "labelFontWeight": "bold", "labelColor": "#000000", "padding": 0}
  }
}
